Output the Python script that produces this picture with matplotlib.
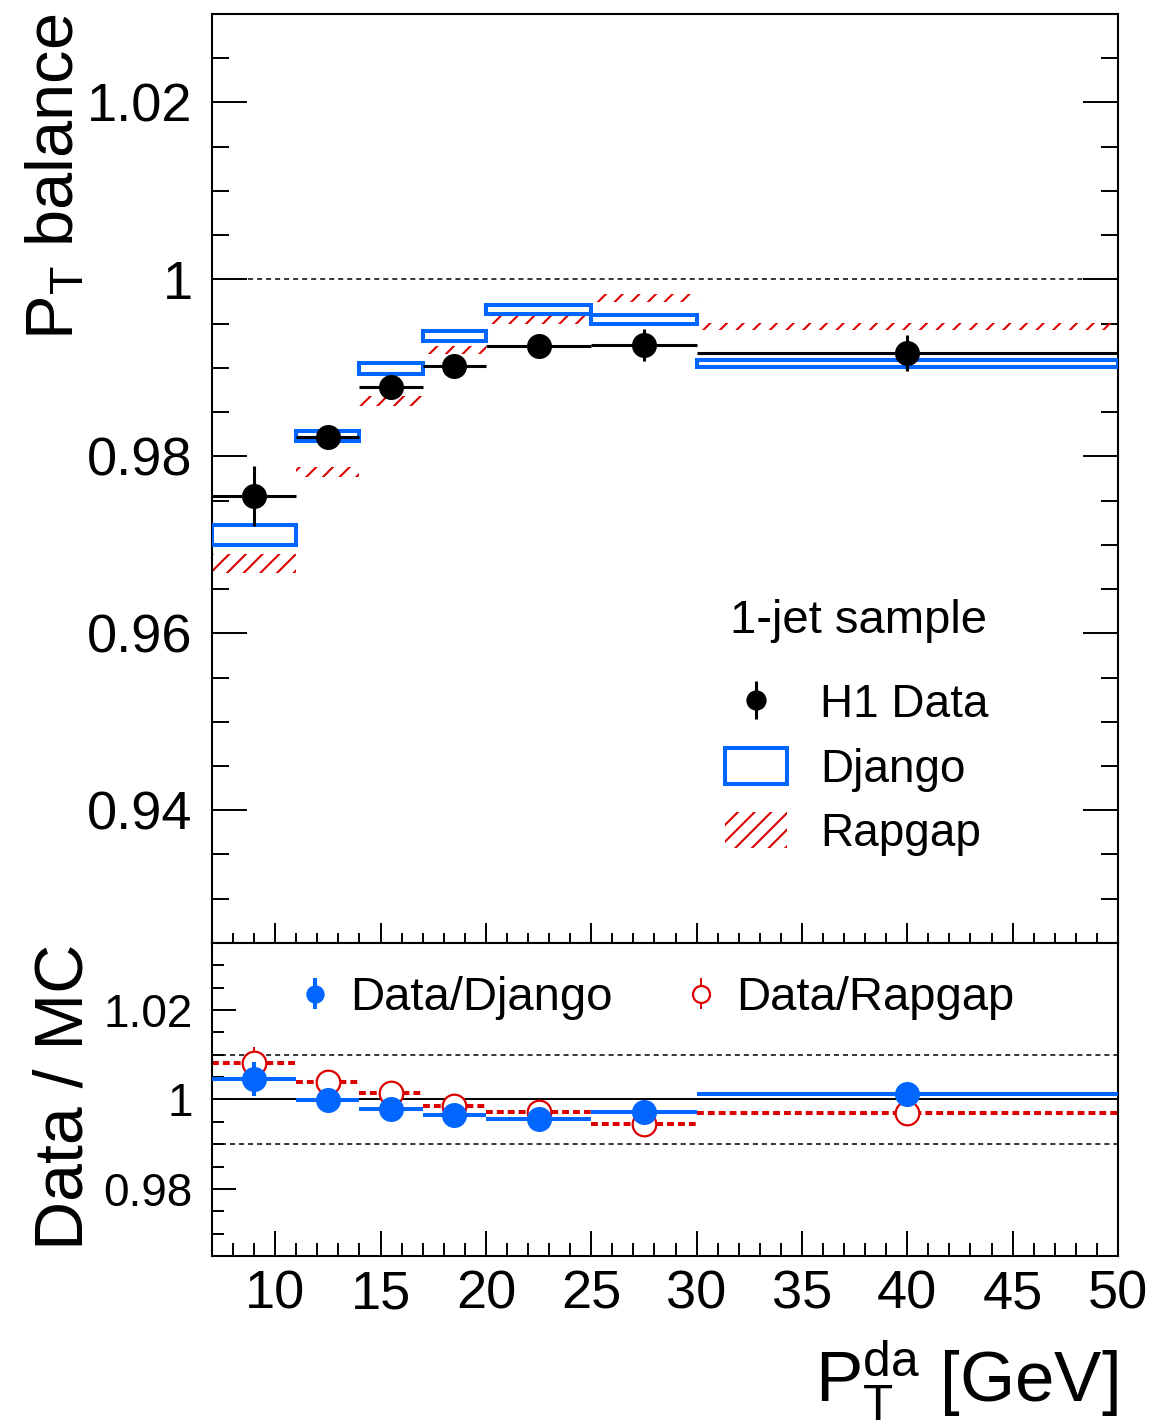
import numpy as np
import matplotlib
matplotlib.use('Agg')
import matplotlib.pyplot as plt
from matplotlib.patches import Patch
from matplotlib.container import ErrorbarContainer
from matplotlib.legend_handler import HandlerErrorbar
from matplotlib.ticker import MultipleLocator, FormatStrFormatter

plt.rcParams['font.family'] = ['Liberation Sans', 'DejaVu Sans']
plt.rcParams['mathtext.fontset'] = 'custom'
plt.rcParams['mathtext.rm'] = 'Liberation Sans'
plt.rcParams['mathtext.it'] = 'Liberation Sans:italic'
plt.rcParams['mathtext.bf'] = 'Liberation Sans:bold'
plt.rcParams['hatch.linewidth'] = 1.5

# bins in P_T^da [GeV]
edges = np.array([7, 11, 14, 17, 20, 25, 30, 50])
centers = 0.5*(edges[1:] + edges[:-1])
halfw = 0.5*np.diff(edges)

# P_T balance, 1-jet sample
data = np.array([0.9755, 0.9822, 0.9878, 0.9902, 0.9925, 0.9926, 0.9917])
data_err = np.array([0.0034, 0.0008, 0.0008, 0.0008, 0.0009, 0.0018, 0.0020])
django = np.array([0.9711, 0.9823, 0.9899, 0.9936, 0.9966, 0.9955, 0.9905])
django_err = np.array([0.0011, 0.00056, 0.0006, 0.00056, 0.0005, 0.0005, 0.0004])
rapgap = np.array([0.9679, 0.9782, 0.9863, 0.9920, 0.9955, 0.9979, 0.9947])
rapgap_err = np.array([0.00107, 0.00056, 0.00056, 0.00045, 0.0005, 0.0005, 0.0004])

# data / MC ratios
rat_dj = np.array([1.0045, 0.9998, 0.9979, 0.99647, 0.99573, 0.99715, 1.00112])
rat_dj_err = np.array([0.0038, 0.0009, 0.0009, 0.0009, 0.0009, 0.0018, 0.0020])
rat_rg = np.array([1.00825, 1.0040, 1.0015, 0.9985, 0.99724, 0.99461, 0.99701])
rat_rg_err = np.array([0.0034, 0.0009, 0.0009, 0.0009, 0.0009, 0.0018, 0.0020])

blue = '#0066ff'
red = '#dd0000'

fig = plt.figure(figsize=(11.56, 14.24), dpi=100)
ax1 = fig.add_axes([0.1834, 0.3378, 0.7837, 0.6524])
ax2 = fig.add_axes([0.1834, 0.1180, 0.7837, 0.2198])

# --- upper panel ---
ax1.axhline(1, color='k', lw=1.1, dashes=(3.3, 2.6), zorder=1)
ax1.bar(centers, 2*rapgap_err, bottom=rapgap - rapgap_err, width=2*halfw,
        facecolor='none', edgecolor=red, hatch='//', linewidth=0, zorder=2)
ax1.bar(centers, 2*django_err, bottom=django - django_err, width=2*halfw,
        facecolor='none', edgecolor=blue, linewidth=2.9, zorder=3)
h_data = ax1.errorbar(centers, data, xerr=halfw, yerr=data_err, fmt='o', color='k',
                      ms=17, elinewidth=2.2, capsize=0, zorder=4)

ax1.set_xlim(7, 50)
ax1.set_ylim(0.925, 1.03)
ax1.xaxis.set_major_locator(MultipleLocator(5))
ax1.xaxis.set_minor_locator(MultipleLocator(1))
ax1.yaxis.set_major_locator(MultipleLocator(0.02))
ax1.yaxis.set_minor_locator(MultipleLocator(0.005))
ax1.yaxis.set_major_formatter(FormatStrFormatter('%g'))
ax1.tick_params(axis='y', which='both', direction='in', left=True, right=True,
                width=1.4, labelsize=39, pad=14)
ax1.tick_params(axis='y', which='major', length=25)
ax1.tick_params(axis='y', which='minor', length=12.5)
ax1.tick_params(axis='x', which='both', direction='in', bottom=True, top=False,
                labelbottom=False, width=1.4)
ax1.tick_params(axis='x', which='major', length=14.4)
ax1.tick_params(axis='x', which='minor', length=7.2)
for s in ax1.spines.values():
    s.set_linewidth(1.5)

ax1.set_ylabel(r'P$_{\rm T}$ balance', fontsize=48, loc='top')
ax1.yaxis.set_label_coords(-0.137, 1.0)

ax1.text(0.5717, 0.3337, '1-jet sample', fontsize=34, ha='left', va='baseline',
         transform=ax1.transAxes)
h_dj = Patch(facecolor='none', edgecolor=blue, linewidth=2.9)
h_rg = Patch(facecolor='none', edgecolor=red, hatch='//', linewidth=0)
ax1.legend([h_data, h_dj, h_rg], ['H1 Data', 'Django', 'Rapgap'],
           loc='upper left', bbox_to_anchor=(0.5662, 0.2799), frameon=False,
           fontsize=33, borderpad=0, borderaxespad=0, numpoints=1,
           handlelength=1.36, handleheight=0.83, handletextpad=0.72,
           labelspacing=0.45, markerscale=0.8,
           handler_map={ErrorbarContainer: HandlerErrorbar(xerr_size=0, yerr_size=0.42)})

# --- ratio panel ---
ax2.axhline(1, color='k', lw=1.4, zorder=1)
for yv in (1.01, 0.99):
    ax2.axhline(yv, color='k', lw=1.1, dashes=(3.3, 2.6), zorder=1)
ax2.hlines(rat_rg, edges[:-1], edges[1:], colors=red, linestyles=(0, (1.7, 1.0)),
           lw=2.9, zorder=2)
h_rrg = ax2.errorbar(centers, rat_rg, yerr=rat_rg_err, fmt='o', mfc='white', mec=red,
                     mew=1.6, ms=17, ecolor=red, elinewidth=1.4, capsize=0, zorder=3)
h_rdj = ax2.errorbar(centers, rat_dj, xerr=halfw, yerr=rat_dj_err, fmt='o', color=blue,
                     ms=17, elinewidth=2.9, capsize=0, zorder=4)

ax2.set_xlim(7, 50)
ax2.set_ylim(0.965, 1.035)
ax2.xaxis.set_major_locator(MultipleLocator(5))
ax2.xaxis.set_minor_locator(MultipleLocator(1))
ax2.yaxis.set_major_locator(MultipleLocator(0.02))
ax2.yaxis.set_minor_locator(MultipleLocator(0.005))
ax2.yaxis.set_major_formatter(FormatStrFormatter('%g'))
ax2.tick_params(axis='y', which='both', direction='in', left=True, right=False,
                width=1.4, labelsize=33, pad=14)
ax2.tick_params(axis='y', which='major', length=17)
ax2.tick_params(axis='y', which='minor', length=8.6)
ax2.tick_params(axis='x', which='both', direction='in', bottom=True, top=False,
                width=1.4, labelsize=39, pad=10)
ax2.tick_params(axis='x', which='major', length=18)
ax2.tick_params(axis='x', which='minor', length=9.4)
for s in ax2.spines.values():
    s.set_linewidth(1.5)

ax2.set_ylabel('Data / MC', fontsize=49)
ax2.yaxis.set_label_coords(-0.128, 0.51)
ax2.set_xlabel(r'P$_{\rm T}^{\rm da}$ [GeV]', fontsize=51, loc='right')
ax2.xaxis.set_label_coords(1.0, -0.262)

ax2.legend([h_rdj, h_rrg], ['Data/Django', 'Data/Rapgap'], ncol=2,
           loc='center left', bbox_to_anchor=(0.0916, 0.824), frameon=False,
           fontsize=34, borderpad=0, borderaxespad=0, numpoints=1,
           handlelength=0.85, handletextpad=0.32, columnspacing=1.45, markerscale=0.72,
           handler_map={ErrorbarContainer: HandlerErrorbar(xerr_size=0, yerr_size=0.33)})

fig.savefig('out.png', dpi=100)
